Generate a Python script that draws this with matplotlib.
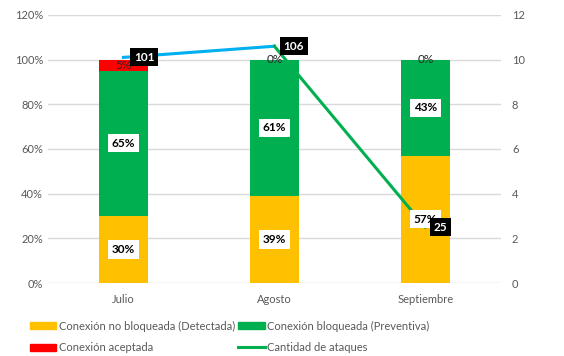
import matplotlib.pyplot as plt
import numpy as np
from matplotlib.patches import Patch
from matplotlib.lines import Line2D

plt.rcParams['font.family'] = ['Lato', 'DejaVu Sans']

# Data
meses = ['Julio', 'Agosto', 'Septiembre']
detectada = [30, 39, 57]      # Conexión no bloqueada (Detectada)
preventiva = [65, 61, 43]     # Conexión bloqueada (Preventiva)
aceptada = [5, 0, 0]          # Conexión aceptada
ataques = [101, 106, 25]      # Cantidad de ataques

yellow = '#FFC000'
green = '#00B050'
red = '#FF0000'
blue = '#00B0F0'
gray = '#595959'

fig = plt.figure(figsize=(5.64, 3.56), dpi=100)
ax = fig.add_axes([0.085, 0.205, 0.803, 0.753])
x = np.arange(len(meses))
w = 0.32

ax.bar(x, detectada, w, color=yellow, zorder=2)
ax.bar(x, preventiva, w, bottom=detectada, color=green, zorder=2)
bot3 = np.array(detectada) + np.array(preventiva)
ax.bar(x, aceptada, w, bottom=bot3, color=red, zorder=2)

ax.set_ylim(0, 120)
ax.set_yticks(np.arange(0, 121, 20))
ax.set_yticklabels([f'{v}%' for v in range(0, 121, 20)])
ax.set_xlim(-0.5, 2.5)
ax.set_xticks(x)
ax.set_xticklabels(meses)
ax.grid(axis='y', color='#D9D9D9', lw=1, zorder=0)
for s in ax.spines.values():
    s.set_visible(False)
ax.tick_params(length=0, colors=gray, labelsize=8)
ax.tick_params(axis='x', pad=8)

# secondary axis
ax2 = ax.twinx()
ax2.set_ylim(0, 120)
ax2.set_yticks(np.arange(0, 121, 20))
ax2.set_yticklabels([str(v // 10) for v in range(0, 121, 20)])
for s in ax2.spines.values():
    s.set_visible(False)
ax2.tick_params(length=0, colors=gray, labelsize=8, pad=8)

ax2.plot(x[:2], ataques[:2], color=blue, lw=2.2, zorder=3)
ax2.plot(x[1:], ataques[1:], color=green, lw=2.2, zorder=3)

# bar labels above the line
box = dict(boxstyle='square,pad=0.3', fc='white', ec='none')
for i in range(len(meses)):
    ax2.text(x[i], detectada[i] / 2, f'{detectada[i]}%', ha='center', va='center',
             fontsize=8.5, fontweight='bold', bbox=box, zorder=5)
    ax2.text(x[i], detectada[i] + preventiva[i] / 2, f'{preventiva[i]}%', ha='center',
             va='center', fontsize=8.5, fontweight='bold', bbox=box, zorder=5)
    ax2.text(x[i], bot3[i] + aceptada[i] / 2, f'{aceptada[i]}%', ha='center',
             va='center', fontsize=8.5, color='#262626', zorder=5)

lbox = dict(boxstyle='square,pad=0.3', fc='black', ec='none')
offs = [(15, 0), (14, 0), (11, 0)]
for i in range(len(meses)):
    ax2.annotate(str(ataques[i]), (x[i], ataques[i]), xytext=offs[i],
                 textcoords='offset points', ha='center', va='center',
                 color='white', fontsize=8.5, fontweight='bold', bbox=lbox, zorder=6)

handles = [Patch(color=yellow), Patch(color=red), Patch(color=green),
           Line2D([], [], color=green, lw=2.2)]
labels = ['Conexión no bloqueada (Detectada)', 'Conexión aceptada',
          'Conexión bloqueada (Preventiva)', 'Cantidad de ataques']
fig.legend(handles, labels, ncol=2, loc='lower left', bbox_to_anchor=(0.035, -0.02),
           frameon=False, fontsize=8, labelcolor=gray, handlelength=2.4,
           handleheight=0.6, handletextpad=0.2, columnspacing=0.3, labelspacing=0.95)

fig.savefig('out.png', dpi=100)
